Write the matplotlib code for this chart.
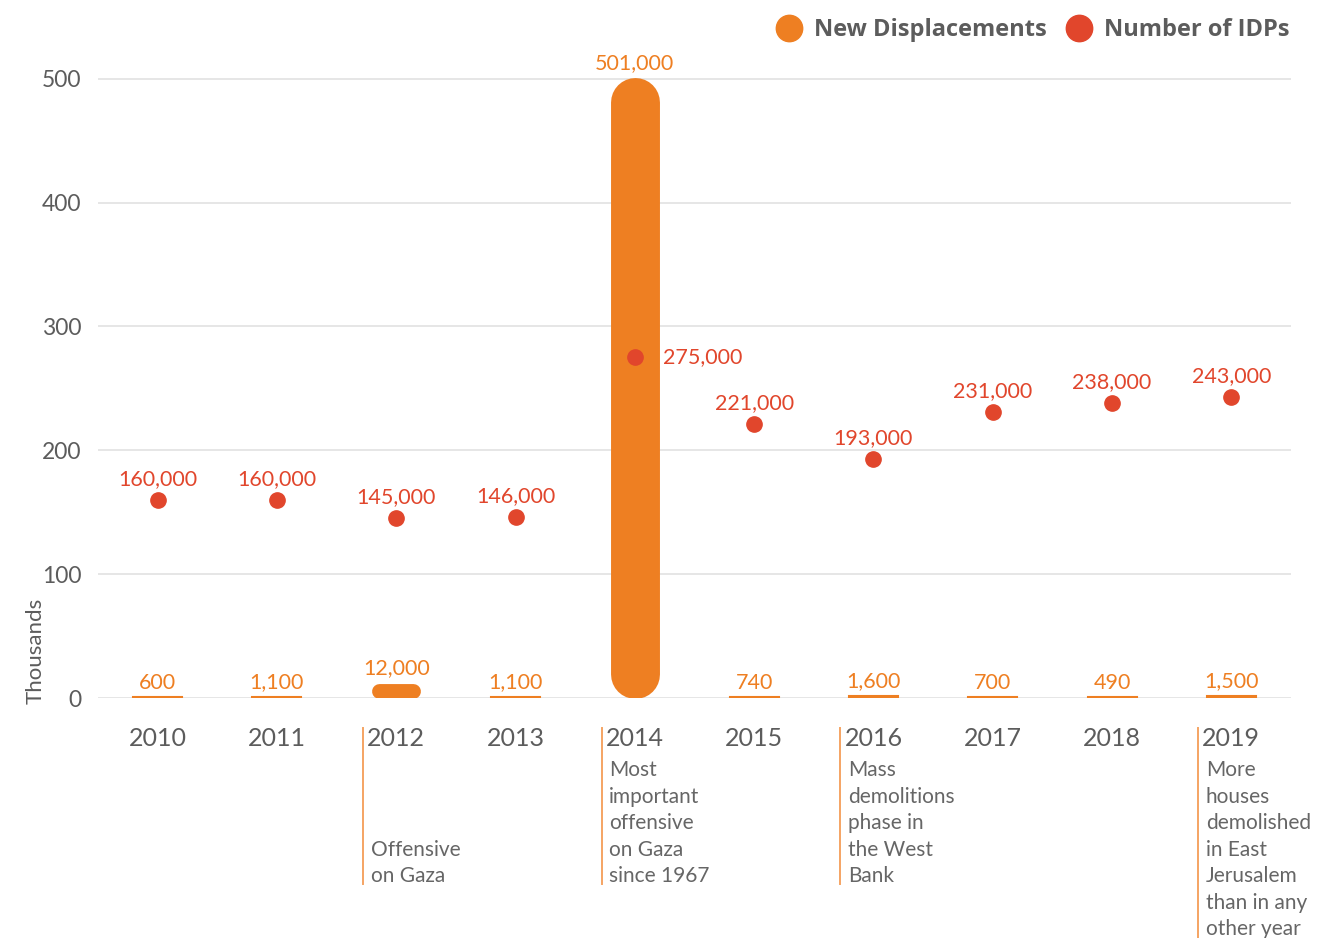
import matplotlib
matplotlib.use("Agg")
import matplotlib.pyplot as plt
from matplotlib.lines import Line2D
from matplotlib.transforms import blended_transform_factory

years = ["2010", "2011", "2012", "2013", "2014", "2015", "2016", "2017", "2018", "2019"]
new_displacements = [600, 1100, 12000, 1100, 501000, 740, 1600, 700, 490, 1500]
idps = [160000, 160000, 145000, 146000, 275000, 221000, 193000, 231000, 238000, 243000]
notes = {
    2: ["", "", "", "Offensive", "on Gaza"],
    4: ["Most", "important", "offensive", "on Gaza", "since 1967"],
    6: ["Mass", "demolitions", "phase in", "the West", "Bank"],
    9: ["More", "houses", "demolished", "in East", "Jerusalem", "than in any", "other year"],
}

ORANGE = "#EE7F22"
RED = "#E1462C"
GREY = "#5c5c5c"
plt.rcParams["font.family"] = ["Lato", "DejaVu Sans"]

W, H = 1320, 938
fig = plt.figure(figsize=(W / 100, H / 100), dpi=100)
ax = fig.add_axes([98 / W, (H - 698) / H, 1193 / W, 644 / H])
ax.set_xlim(-0.5, 9.5)
ax.set_ylim(0, 520)

# pixel scale, used to give the bars fully round ends
px_x = 1193 / 10.0
px_y = 644 / 520.0
bar_w = 0.41
w_px = bar_w * px_x
for i, v in enumerate(new_displacements):
    h = v / 1000
    h_px = h * px_y
    if h_px >= w_px:
        r = (w_px / 2) / px_y
        ax.plot([i, i], [r, h - r], color=ORANGE, linewidth=w_px * 0.72,
                solid_capstyle="round", zorder=3)
    elif h_px > 6:
        dx = (w_px - h_px) / 2 / px_x
        ax.plot([i - dx, i + dx], [h / 2, h / 2], color=ORANGE, linewidth=h_px * 0.72,
                solid_capstyle="round", zorder=3)
    else:
        ax.bar(i, h, width=bar_w, color=ORANGE, edgecolor=ORANGE, linewidth=1.5, zorder=3)
    ax.annotate("{:,}".format(v), (i, h), xytext=(0, 10.5), textcoords="offset points",
                ha="center", va="center", fontsize=15.5, color=ORANGE, zorder=5)

xs = list(range(len(years)))
ax.plot(xs, [v / 1000 for v in idps], "o", color=RED, markersize=11, zorder=4)
for i, v in enumerate(idps):
    if i == 4:
        ax.annotate("{:,}".format(v), (i, v / 1000), xytext=(20, 0), textcoords="offset points",
                    ha="left", va="center", fontsize=15.5, color=RED, zorder=5)
    else:
        ax.annotate("{:,}".format(v), (i, v / 1000), xytext=(0, 15), textcoords="offset points",
                    ha="center", va="center", fontsize=15.5, color=RED, zorder=5)

ax.set_yticks([0, 100, 200, 300, 400, 500])
ax.grid(axis="y", color="#e4e4e4", linewidth=1.3, zorder=0)
ax.set_axisbelow(True)
for s in ax.spines.values():
    s.set_visible(False)
ax.set_xticks(xs)
ax.set_xticklabels(years)
ax.tick_params(axis="x", length=0, pad=21, labelsize=18, labelcolor=GREY)
ax.tick_params(axis="y", length=0, pad=12, labelsize=16.5, labelcolor=GREY)
ax.set_ylabel("Thousands", fontsize=16, color=GREY)
ax.yaxis.set_label_coords(-0.044, -0.01, transform=ax.transAxes)
ax.yaxis.label.set_va("bottom")
ax.yaxis.label.set_ha("left")

# event notes under the years
trans = blended_transform_factory(ax.transData, fig.transFigure)
for i, lines in notes.items():
    bottom = 938 if i == 9 else 884
    ax.plot([i - 0.277, i - 0.277], [1 - 728 / H, 1 - bottom / H], color="#F5A463",
            linewidth=1.4, transform=trans, clip_on=False)
    for k, t in enumerate(lines):
        ax.text(i - 0.215, 1 - (770 + k * 26.5) / H, t, transform=trans,
                ha="left", va="center", fontsize=15, color="#666666")

handles = [Line2D([], [], marker="o", linestyle="", color=ORANGE, markersize=19),
           Line2D([], [], marker="o", linestyle="", color=RED, markersize=19)]
fig.legend(handles, ["New Displacements", "Number of IDPs"], loc="upper right",
           bbox_to_anchor=(1302 / W, 1 - 5 / H), ncol=2, frameon=False, borderaxespad=0.15,
           handletextpad=0.45, columnspacing=0.75, handlelength=1.2,
           prop={"family": ["Open Sans", "DejaVu Sans"], "weight": "bold", "size": 17},
           labelcolor=GREY)

fig.savefig("out.png", dpi=100)
